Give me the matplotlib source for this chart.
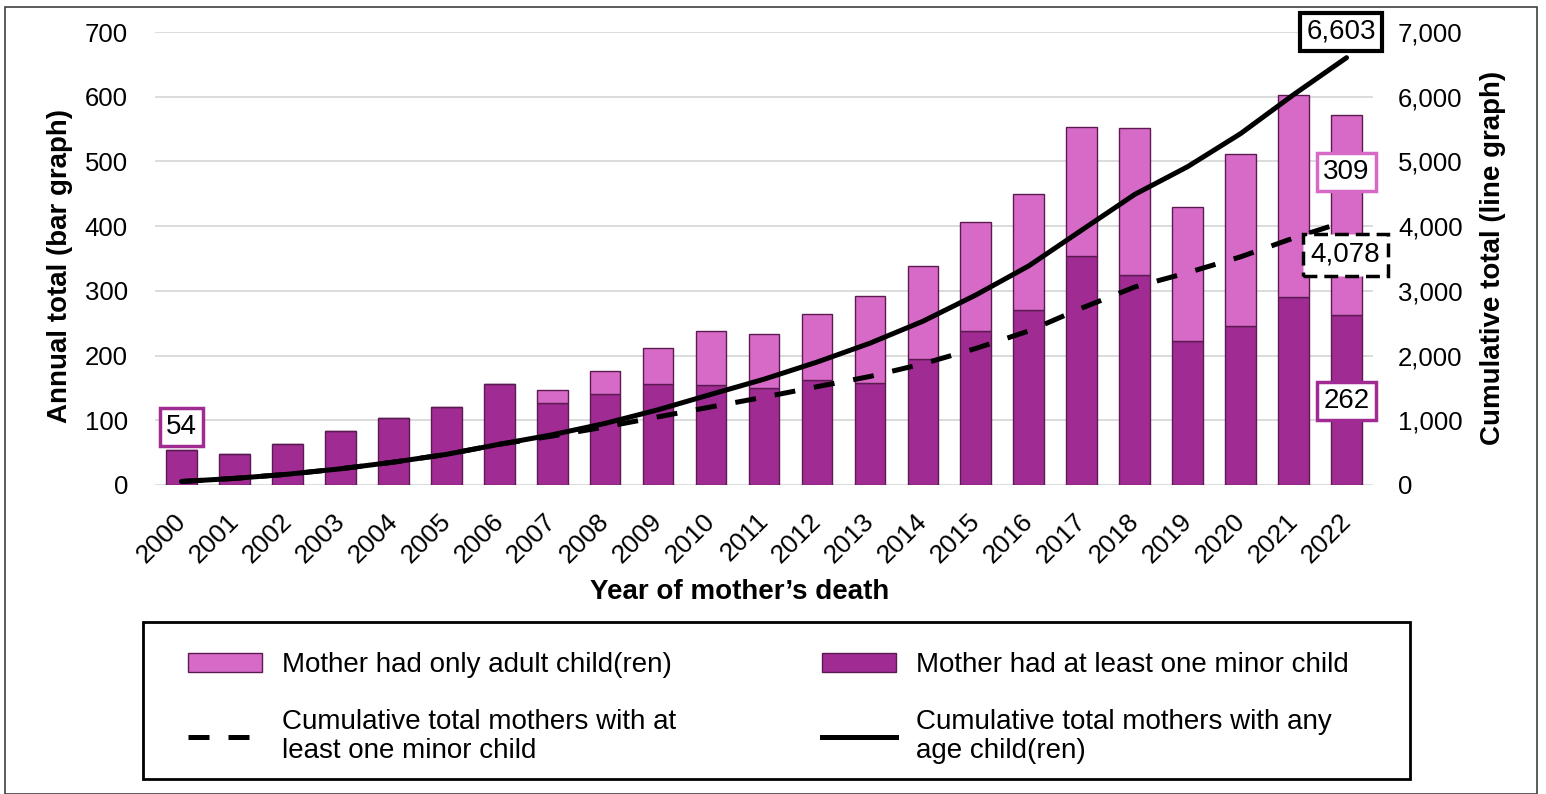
import matplotlib
matplotlib.use("Agg")
import matplotlib.pyplot as plt
import matplotlib.transforms as mtransforms
from matplotlib.patches import Rectangle, Patch
from matplotlib.lines import Line2D
from matplotlib.ticker import FuncFormatter, MultipleLocator

plt.rcParams['font.family'] = ['Liberation Sans', 'DejaVu Sans']

years = ['2000', '2001', '2002', '2003', '2004', '2005', '2006', '2007', '2008', '2009', '2010',
         '2011', '2012', '2013', '2014', '2015', '2016', '2017', '2018', '2019', '2020', '2021', '2022']
minor_child = [54, 48, 64, 84, 103, 120, 156, 127, 141, 156, 154, 150, 162, 158, 195, 238, 270,
               354, 325, 222, 245, 290, 262]
adult_only = [0, 0, 0, 0, 0, 0, 0, 20, 35, 55, 84, 84, 102, 134, 144, 168, 180,
              199, 226, 207, 266, 312, 309]
cum_minor = [54, 102, 166, 250, 353, 473, 629, 756, 897, 1053, 1207, 1357, 1519, 1677, 1872,
             2110, 2380, 2734, 3059, 3281, 3526, 3816, 4078]
cum_all = [54, 102, 166, 250, 353, 473, 629, 776, 952, 1163, 1401, 1635, 1899, 2191, 2530,
           2936, 3386, 3939, 4490, 4919, 5430, 6032, 6603]

DARK = '#A02B93'
LIGHT = '#D76AC7'
EDGE = '#5B1A52'
W, H = 1546, 794

fig = plt.figure(figsize=(W / 100, H / 100), dpi=100)
ax = fig.add_axes([155 / W, 1 - 485 / H, (1373 - 155) / W, (485 - 32) / H])
x = list(range(len(years)))

ax.bar(x, minor_child, width=0.58, color=DARK, edgecolor=EDGE, linewidth=1, zorder=2)
ax.bar(x, adult_only, width=0.58, bottom=minor_child, color=LIGHT, edgecolor=EDGE, linewidth=1, zorder=2)

ax.set_xlim(-0.5, len(years) - 0.5)
ax.set_ylim(0, 700)
ax.yaxis.set_major_locator(MultipleLocator(100))
ax.grid(axis='y', color='#d9d9d9', linewidth=1.3)
ax.set_axisbelow(True)
for s in ax.spines.values():
    s.set_visible(False)
ax.tick_params(length=0, labelsize=18.5, colors='black')
ax.tick_params(axis='y', pad=19.5)
ax.set_xticks(x)
ax.set_xticklabels(years, rotation=45, ha='right', va='top', rotation_mode='anchor', fontsize=19)
ax.tick_params(axis='x', pad=16)
shift = mtransforms.ScaledTranslation(-8 / 100, -1.5 / 100, fig.dpi_scale_trans)
for lab in ax.get_xticklabels():
    lab.set_transform(lab.get_transform() + shift)

ax2 = ax.twinx()
ax2.set_ylim(0, 7000)
ax2.yaxis.set_major_locator(MultipleLocator(1000))
ax2.yaxis.set_major_formatter(FuncFormatter(lambda v, p: f'{int(v):,}'))
for s in ax2.spines.values():
    s.set_visible(False)
ax2.tick_params(length=0, labelsize=18.5, colors='black', pad=18)
ax2.plot(x, cum_minor, color='black', linewidth=3.6, linestyle=(0, (4.2, 3.8)),
         dash_capstyle='butt', zorder=3)
ax2.plot(x, cum_all, color='black', linewidth=3.6, solid_capstyle='round', zorder=3)

# labels
fig.text(60 / W, 1 - 266 / H, 'Annual total (bar graph)', rotation=90, ha='center', va='center',
         fontsize=20, fontweight='bold')
fig.text(1493 / W, 1 - 258 / H, 'Cumulative total (line graph)', rotation=90, ha='center', va='center',
         fontsize=20, fontweight='bold')
fig.text(740 / W, 1 - 592 / H, 'Year of mother\u2019s death', ha='center', va='center',
         fontsize=20, fontweight='bold')

# annotation boxes
def box(axis, xv, yv, txt, ec, ls='-', lw=2.5, pad=0.22):
    axis.text(xv, yv, txt, ha='center', va='center', fontsize=20, zorder=6,
              bbox=dict(boxstyle=f'square,pad={pad}', facecolor='white', edgecolor=ec,
                        linewidth=lw, linestyle=ls))

box(ax, 0, 90, str(minor_child[0]), DARK)
box(ax, 22, 484, str(adult_only[-1]), LIGHT)
box(ax, 22, 130, str(minor_child[-1]), DARK)
box(ax2, 21.98, 3555, f'{cum_minor[-1]:,}', 'black', ls=(0, (4, 2)), lw=2.5, pad=0.28)
box(ax2, 21.9, 7000, f'{cum_all[-1]:,}', 'black', lw=3)

# legend
handles = [Patch(facecolor=LIGHT, edgecolor=EDGE, linewidth=1),
           Line2D([], [], color='black', linewidth=3.6, linestyle=(0, (4.2, 3.8)), dash_capstyle='butt'),
           Patch(facecolor=DARK, edgecolor=EDGE, linewidth=1),
           Line2D([], [], color='black', linewidth=3.6)]
labels = ['Mother had only adult child(ren)',
          'Cumulative total mothers with at\nleast one minor child',
          'Mother had at least one minor child',
          'Cumulative total mothers with any\nage child(ren)']
leg = fig.legend(handles, labels, loc='upper left', bbox_to_anchor=(188 / W, 1 - 652 / H), ncol=2,
                 frameon=False, fontsize=20, handlelength=2.66, handleheight=0.65, handletextpad=0.72,
                 columnspacing=5.26, labelspacing=1.1, borderpad=0, borderaxespad=0)
for t in leg.get_texts():
    t.set_linespacing(1.15)
fig.add_artist(Rectangle((143 / W, 1 - 779 / H), (1410 - 143) / W, (779 - 622) / H,
                         transform=fig.transFigure, fill=False, edgecolor='black', linewidth=2))
fig.add_artist(Rectangle((5 / W, 0), (1537 - 5) / W, 1 - 7 / H,
                         transform=fig.transFigure, fill=False, edgecolor='#404040', linewidth=1.2))

fig.savefig('out.png', dpi=100)
